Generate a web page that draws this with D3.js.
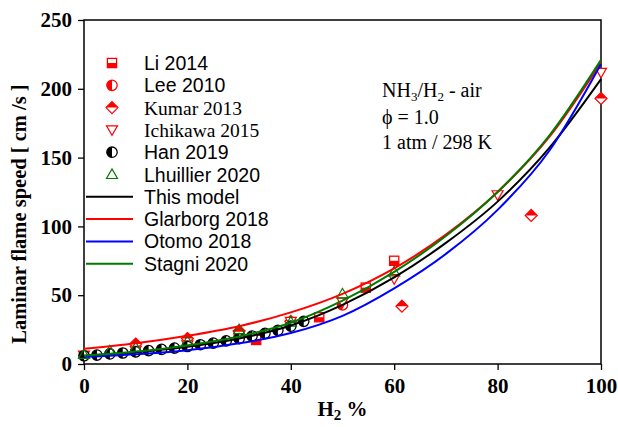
<!DOCTYPE html>
<html>
<head>
<meta charset="utf-8">
<script src="https://cdn.jsdelivr.net/npm/d3@7"></script>
<style>
  html, body { margin: 0; padding: 0; background: #fff; }
  svg { display: block; }
</style>
</head>
<body>
<svg id="chart" width="618" height="427"></svg>
<script>
// H2 fraction in fuel (%) vs laminar flame speed (cm/s) for NH3/H2-air, phi = 1.0
const xTicks = [0, 20, 40, 60, 80, 100];
const yTicks = [0, 50, 100, 150, 200, 250];

// model predictions (sampled every 10 % H2)
const modelX = [0, 10, 20, 30, 40, 50, 60, 70, 80, 90, 100];
const thisModel = [6, 8.5, 12.5, 18.5, 28, 43, 63, 88, 118, 157, 207];
const glarborg2018 = [11, 15, 20.5, 27.5, 37.5, 51, 69.5, 94, 125, 165, 219];
const otomo2018 = [5, 7, 10, 15, 22.5, 35, 55, 80, 112, 155, 218];
const stagni2020 = [6, 9, 13.5, 20, 30, 46, 67, 93, 125, 166, 221];

// measurements
const li2014X = [33.3, 45.5, 54.5, 60];
const li2014Y = [17.5, 34, 55.5, 75];
const lee2010X = [10, 20, 30, 40, 50];
const lee2010Y = [9, 13.5, 20, 29, 43];
const kumar2013X = [10, 20, 30, 40, 61.5, 86.5, 100];
const kumar2013Y = [14.5, 18.5, 24, 31, 42, 108, 193];
const ichikawa2015X = [0, 10, 20, 30, 40, 50, 60, 80, 100];
const ichikawa2015Y = [6.5, 10, 14, 21, 31, 45, 62, 123, 212];
const han2019X = [0, 2.5, 5, 7.5, 10, 12.5, 15, 17.5, 20, 22.5, 25, 27.5, 30, 32.5, 35, 37.5, 40, 42.5];
const han2019Y = [6, 6.5, 7.3, 8, 8.8, 9.7, 10.6, 11.6, 12.7, 14, 15.2, 16.8, 18.4, 20.3, 22.3, 24.5, 27.5, 31];
const lhuillier2020X = [0, 5, 10, 20, 30, 40, 50, 60];
const lhuillier2020Y = [7, 9.5, 12, 16.5, 25, 30.5, 51, 67];

const svg = d3.select("#chart");
const margin = { left: 84, right: 17, top: 20, bottom: 63 };
const W = 618, H = 427;
const x = d3.scaleLinear().domain([0, 100]).range([margin.left, W - margin.right]);
const y = d3.scaleLinear().domain([0, 250]).range([H - margin.bottom, margin.top]);

const serif = "'Liberation Serif', 'Times New Roman', serif";
const sans = "'Liberation Sans', Arial, sans-serif";

// axes
const xAxis = d3.axisBottom(x).tickValues(xTicks).tickSizeInner(6).tickSizeOuter(0).tickPadding(8);
const yAxis = d3.axisLeft(y).tickValues(yTicks).tickSizeInner(6).tickSizeOuter(0).tickPadding(6);

const gx = svg.append("g").attr("transform", `translate(0,${y(0)})`).call(xAxis);
const gy = svg.append("g").attr("transform", `translate(${x(0)},0)`).call(yAxis);
[gx, gy].forEach(g => {
  g.select(".domain").remove();
  g.selectAll(".tick line").attr("stroke", "#000").attr("stroke-width", 1.3);
  g.selectAll(".tick text")
    .attr("font-family", serif).attr("font-weight", "bold")
    .attr("font-size", 21).attr("fill", "#000");
});

// frame
svg.append("rect")
  .attr("x", x(0)).attr("y", y(250))
  .attr("width", x(100) - x(0)).attr("height", y(0) - y(250))
  .attr("fill", "none").attr("stroke", "#000").attr("stroke-width", 1.5);

// axis titles
const xt = svg.append("text")
  .attr("x", x(50)).attr("y", 416)
  .attr("text-anchor", "middle")
  .attr("font-family", serif).attr("font-weight", "bold").attr("font-size", 21);
xt.append("tspan").text("H");
xt.append("tspan").attr("font-size", 15).attr("dy", 4).text("2");
xt.append("tspan").attr("dy", -4).text(" %");

svg.append("text")
  .attr("transform", `translate(26,${(y(0) + y(250)) / 2 + 22}) rotate(-90)`)
  .attr("text-anchor", "middle")
  .attr("font-family", serif).attr("font-weight", "bold").attr("font-size", 20.5)
  .text("Laminar flame speed [ cm /s ]");

// condition annotation
const ann = svg.append("g").attr("font-family", serif).attr("font-size", 20).attr("fill", "#000");
const a1 = ann.append("text").attr("x", 382).attr("y", 97);
a1.append("tspan").text("NH");
a1.append("tspan").attr("font-size", 13).attr("dy", 4).text("3");
a1.append("tspan").attr("dy", -4).text("/H");
a1.append("tspan").attr("font-size", 13).attr("dy", 4).text("2");
a1.append("tspan").attr("dy", -4).text(" - air");
ann.append("text").attr("x", 382).attr("y", 124).text("\u03D5  = 1.0");
ann.append("text").attr("x", 382).attr("y", 149).text("1 atm / 298 K");

// model curves
const plot = svg.append("g");
const line = d3.line().x(d => x(d[0])).y(d => y(d[1])).curve(d3.curveMonotoneX);
const models = [
  { name: "This model", vals: thisModel, color: "#000000" },
  { name: "Glarborg 2018", vals: glarborg2018, color: "#ff0000" },
  { name: "Otomo 2018", vals: otomo2018, color: "#0000ff" },
  { name: "Stagni 2020", vals: stagni2020, color: "#007a00" }
];

// marker shapes
const RED = "#ff0000";
function marker(g, type, cx, cy) {
  const m = g.append("g").attr("transform", `translate(${cx},${cy})`);
  if (type === "li") {
    const s = 4.6;
    m.append("rect").attr("x", -s).attr("y", -s).attr("width", 2 * s).attr("height", 2 * s)
      .attr("fill", "#fff").attr("stroke", RED).attr("stroke-width", 1.3);
    m.append("rect").attr("x", -s).attr("y", 0).attr("width", 2 * s).attr("height", s).attr("fill", RED);
  } else if (type === "lee" || type === "han") {
    const c = type === "lee" ? RED : "#000";
    const r = 5.2;
    m.append("circle").attr("r", r).attr("fill", "#fff").attr("stroke", c).attr("stroke-width", 1.3);
    m.append("path").attr("d", `M0,${-r} A${r},${r} 0 0 0 0,${r} Z`).attr("fill", c);
  } else if (type === "kumar") {
    const s = 6;
    m.append("path").attr("d", `M0,${-s} L${s},0 L0,${s} L${-s},0 Z`)
      .attr("fill", "#fff").attr("stroke", RED).attr("stroke-width", 1.2);
    m.append("path").attr("d", `M0,${-s} L${s},0 L${-s},0 Z`).attr("fill", RED);
  } else if (type === "ichikawa") {
    m.append("path").attr("d", "M-5.5,-4 L5.5,-4 L0,5.5 Z")
      .attr("fill", "#fff").attr("stroke", RED).attr("stroke-width", 1.2);
  } else if (type === "lhuillier") {
    m.append("path").attr("d", "M-5.5,4 L5.5,4 L0,-5.5 Z")
      .attr("fill", "none").attr("stroke", "#007a00").attr("stroke-width", 1.2);
  }
}

const measured = [
  { name: "Li 2014", type: "li", xs: li2014X, ys: li2014Y, font: sans },
  { name: "Lee 2010", type: "lee", xs: lee2010X, ys: lee2010Y, font: sans },
  { name: "Kumar 2013", type: "kumar", xs: kumar2013X, ys: kumar2013Y, font: serif },
  { name: "Ichikawa 2015", type: "ichikawa", xs: ichikawa2015X, ys: ichikawa2015Y, font: serif },
  { name: "Han 2019", type: "han", xs: han2019X, ys: han2019Y, font: sans },
  { name: "Lhuillier 2020", type: "lhuillier", xs: lhuillier2020X, ys: lhuillier2020Y, font: sans }
];

// data points below the curves
const pts = plot.append("g");
measured.forEach(s => {
  s.xs.forEach((xv, i) => marker(pts, s.type, x(xv), y(s.ys[i])));
});

models.forEach(mo => {
  plot.append("path")
    .datum(modelX.map((xv, i) => [xv, mo.vals[i]]))
    .attr("d", line).attr("fill", "none")
    .attr("stroke", mo.color).attr("stroke-width", 2);
});

// legend
const leg = svg.append("g");
const rowY = i => 63 + i * 22.3;
measured.forEach((s, i) => {
  marker(leg, s.type, 112, rowY(i));
  leg.append("text").attr("x", 144).attr("y", rowY(i) + 7)
    .attr("font-family", s.font).attr("font-size", 19.5).text(s.name);
});
models.forEach((mo, j) => {
  const i = j + measured.length;
  leg.append("line").attr("x1", 86).attr("x2", 133).attr("y1", rowY(i)).attr("y2", rowY(i))
    .attr("stroke", mo.color).attr("stroke-width", 2);
  leg.append("text").attr("x", 144).attr("y", rowY(i) + 7)
    .attr("font-family", sans).attr("font-size", 19.5).text(mo.name);
});
</script>
</body>
</html>
